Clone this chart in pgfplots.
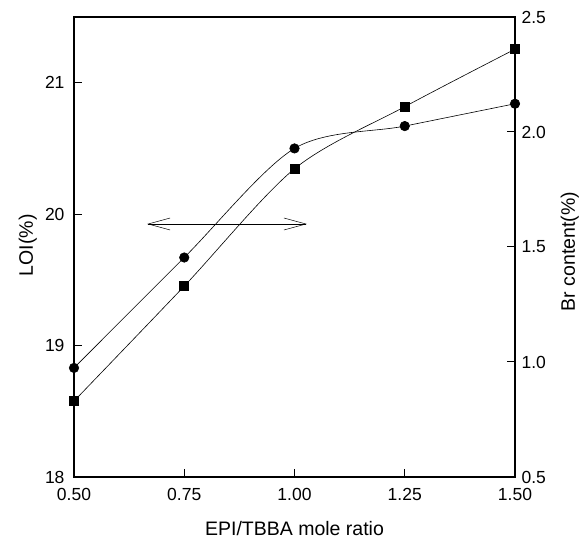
\documentclass[border=0pt]{standalone}
\usepackage{fontspec}
\setmainfont{Liberation Sans}
\usepackage{pgfplots}
\pgfplotsset{compat=1.18}
\usetikzlibrary{arrows.meta,calc}

\begin{document}
\begin{tikzpicture}
\pgfplotsset{
  base/.style={
    width=441pt, height=460pt, scale only axis,
    xmin=0.5, xmax=1.5,
    tick align=inside,
    major tick length=8pt,
    every tick/.style={black, line width=1pt},
    axis line style={line width=1.4pt},
    /pgf/number format/assume math mode=true,
    tick label style={font=\fontsize{17.5}{20}\selectfont},
    label style={font=\fontsize{19.5}{22}\selectfont},
  }
}
\begin{axis}[base, name=ax,
    ymin=18, ymax=21.5,
    xtick={0.5,0.75,1,1.25,1.5},
    xticklabel style={/pgf/number format/.cd, fixed, fixed zerofill, precision=2, /tikz/.cd, yshift=-8pt},
    ytick={18,19,20,21},
    yticklabel style={xshift=-6pt},
    xtick pos=bottom, ytick pos=left,
    xlabel={EPI/TBBA mole ratio},
    xlabel style={at={(axis description cs:0.5,-0.128)}, anchor=base},
    ylabel={LOI(\%)},
    ylabel style={at={(axis description cs:-0.093,0.504)}, anchor=base, rotate=0},
  ]
  % LOI
  \addplot[black, line width=0.6pt, smooth, mark=*, mark size=4.75pt,
           mark options={solid}] coordinates {
    (0.50,18.83) (0.75,19.67) (1.00,20.50) (1.25,20.67) (1.50,20.84)
  };
  \draw[line width=0.5pt, {Straight Barb[length=22pt,width=12pt]}-{Straight Barb[length=22pt,width=12pt]}]
    (axis cs:0.666,19.925) -- (axis cs:1.028,19.925);
\end{axis}
\begin{axis}[base,
    ymin=0.5, ymax=2.5,
    axis x line=none,
    axis y line*=right,
    ytick={0.5,1,1.5,2,2.5},
    yticklabel style={/pgf/number format/.cd, fixed, fixed zerofill, precision=1, /tikz/.cd, xshift=3pt},
    ylabel={Br content(\%)},
    ylabel style={at={(axis description cs:1.136,0.49)}, anchor=base, rotate=0},
  ]
  % Br content
  \addplot[black, line width=0.6pt, smooth, mark=square*, mark size=4.5pt,
           mark options={solid}] coordinates {
    (0.50,0.83) (0.75,1.33) (1.00,1.84) (1.25,2.11) (1.50,2.36)
  };
\end{axis}
\path ($(ax.south west)+(-74pt,-61pt)$) rectangle ($(ax.north east)+(68pt,17pt)$);
\end{tikzpicture}
\end{document}
